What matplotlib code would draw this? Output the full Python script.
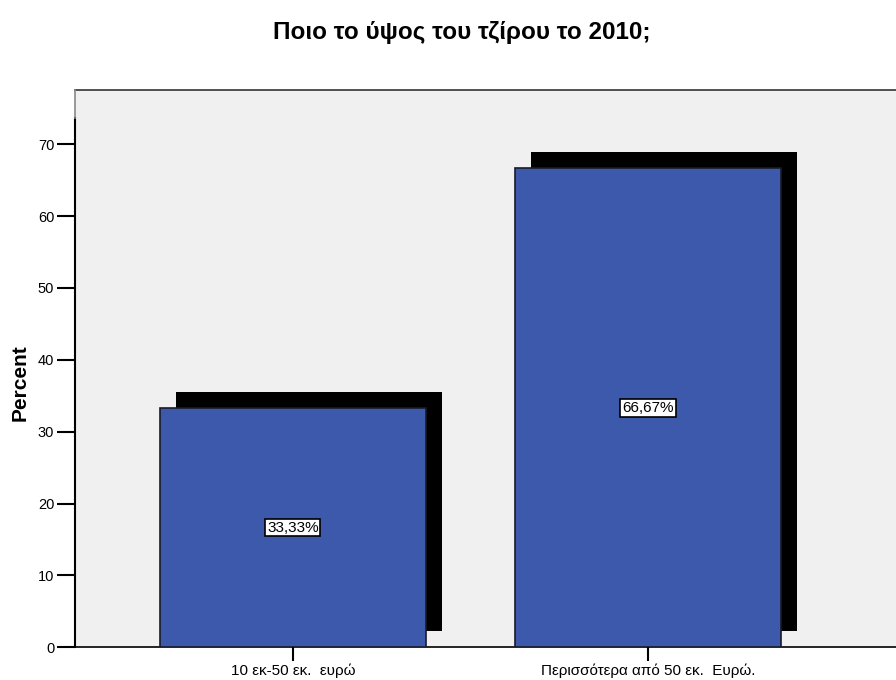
import matplotlib
matplotlib.use("Agg")
import matplotlib.pyplot as plt
import matplotlib.transforms as mtransforms

plt.rcParams['font.family'] = ['Liberation Sans', 'DejaVu Sans']

categories = ["10 εκ-50 εκ.  ευρώ", "Περισσότερα από 50 εκ.  Ευρώ."]
percents = [33.33, 66.67]
value_labels = ["33,33%", "66,67%"]
title = "Ποιο το ύψος του τζίρου το 2010;"
ylabel = "Percent"
yticks = [0, 10, 20, 30, 40, 50, 60, 70]

fig = plt.figure(figsize=(8.96, 6.8), dpi=100)
W, H = 896, 680
ax = fig.add_axes([75 / W, 1 - 647.3 / H, (896 - 75) / W, (647.3 - 90) / H])
ax.set_facecolor('#f0f0f0')

x = list(range(len(categories)))
width = 0.75
shadow_tr = mtransforms.offset_copy(ax.transData, fig=fig, x=16, y=16, units='dots')
ax.bar(x, percents, width=width, color='black', edgecolor='none', transform=shadow_tr, zorder=2)
ax.bar(x, percents, width=width, color='#3d59ab', edgecolor='#1a1a2a', linewidth=1.2, zorder=3)

for xi, v, lab in zip(x, percents, value_labels):
    ax.text(xi, v / 2, lab, ha='center', va='center', fontsize=11, zorder=5,
            bbox=dict(boxstyle='square,pad=0.12', facecolor='white', edgecolor='black', linewidth=1.2))

ax.set_xlim(-0.613, 1.698)
ax.set_ylim(0, 77.55)
ax.set_yticks(yticks)
ax.set_yticklabels([str(t) for t in yticks], fontsize=10.5)
ax.set_xticks(x)
ax.set_xticklabels(categories, fontsize=11)
ax.tick_params(axis='y', direction='out', length=13, width=1.5, pad=2)
ax.tick_params(axis='x', direction='out', length=10, width=1.5, pad=2)

ax.spines['right'].set_visible(False)
ax.spines['top'].set_color('#333333')
ax.spines['top'].set_linewidth(1.2)
ax.spines['bottom'].set_color('black')
ax.spines['bottom'].set_linewidth(1.2)
ax.spines['left'].set_color('black')
ax.spines['left'].set_linewidth(1.5)
ax.spines['left'].set_bounds(0, 73.6)
ax.plot([-0.613, -0.613], [73.6, 77.55], color='#888888', linewidth=1.2, clip_on=False, zorder=6)

ax.set_ylabel(ylabel, fontsize=15, fontweight='bold')
ax.yaxis.set_label_coords(20 / W, 1 - 383 / H, transform=fig.transFigure)
ax.yaxis.label.set_verticalalignment('center')
fig.text(462 / W, 1 - 32 / H, title, ha='center', va='center', fontsize=17.5, fontweight='bold')

fig.savefig('out.png', dpi=100)
